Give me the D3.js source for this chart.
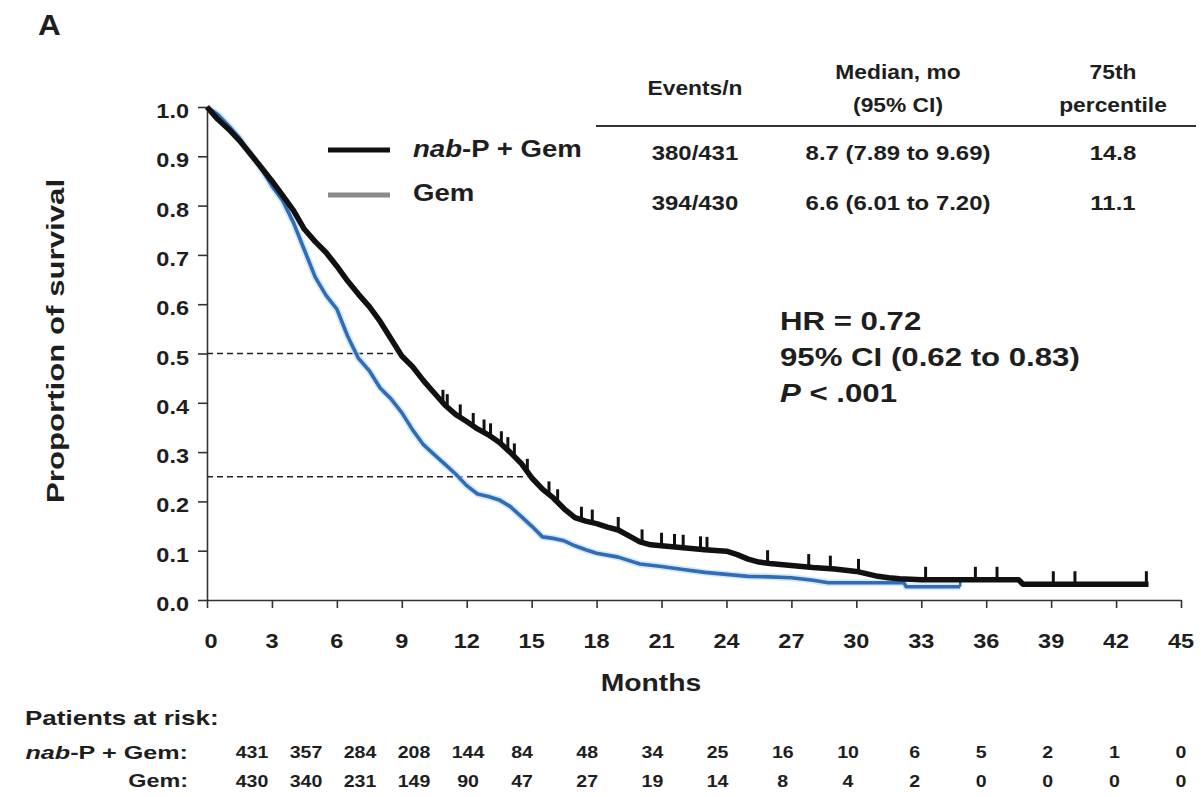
<!DOCTYPE html>
<html>
<head>
<meta charset="utf-8">
<script src="https://cdn.jsdelivr.net/npm/d3@7"></script>
<style>
  html, body { margin: 0; padding: 0; background: #fff; }
  svg { display: block; font-family: "Liberation Sans", Arial, sans-serif; }
</style>
</head>
<body>
<svg id="chart" width="1201" height="797"></svg>
<script>
// Overall survival, Kaplan-Meier estimates (months vs. proportion surviving)
const monthTicks = [0, 3, 6, 9, 12, 15, 18, 21, 24, 27, 30, 33, 36, 39, 42, 45];
const survTicks = [0, 0.1, 0.2, 0.3, 0.4, 0.5, 0.6, 0.7, 0.8, 0.9, 1.0];

// nab-P + Gem arm
const nabTime = [0, 0.5, 1.0, 1.5, 2.0, 2.5, 3.0, 3.5, 4.0, 4.5, 5.0, 5.5, 6.0, 6.5, 7.0, 7.5, 8.0, 8.5, 9.0, 9.5,
  10.0, 10.5, 11.0, 11.5, 12.0, 12.5, 13.0, 13.5, 14.0, 14.5, 15.0, 15.5, 16.0, 16.5, 17.0, 17.5, 18.0, 18.5, 19.0, 19.5,
  20.0, 20.5, 21.0, 22.0, 23.0, 24.0, 24.5, 25.0, 25.5, 26.0, 27.0, 28.0, 29.0, 30.0, 30.5, 31.0, 31.5, 32.0, 33.0, 37.5, 37.7, 43.5];
const nabSurv = [1.0, 0.975, 0.955, 0.932, 0.905, 0.878, 0.85, 0.82, 0.79, 0.752, 0.727, 0.705, 0.677, 0.647, 0.62, 0.595, 0.565, 0.53, 0.495, 0.473,
  0.445, 0.42, 0.395, 0.376, 0.362, 0.347, 0.335, 0.32, 0.30, 0.278, 0.248, 0.225, 0.207, 0.185, 0.167, 0.16, 0.155, 0.148, 0.142, 0.13,
  0.118, 0.112, 0.11, 0.106, 0.102, 0.099, 0.092, 0.083, 0.077, 0.074, 0.07, 0.066, 0.063, 0.058, 0.053, 0.048, 0.045, 0.043, 0.041, 0.041, 0.032, 0.032];
const nabCensored = [10.9, 11.1, 11.7, 12.3, 12.8, 13.1, 13.6, 13.9, 14.2, 14.8, 15.8, 16.2, 17.3, 17.8, 19.0, 20.1, 21.0, 21.6, 22.0,
  22.8, 23.1, 25.9, 27.8, 28.8, 30.1, 33.2, 35.5, 36.5, 39.1, 40.1, 43.4];

// Gem arm
const gemTime = [0, 0.5, 1.0, 1.5, 2.0, 2.5, 3.0, 3.5, 4.0, 4.5, 5.0, 5.5, 6.0, 6.5, 7.0, 7.5, 8.0, 8.5, 9.0, 9.5,
  10.0, 10.5, 11.0, 11.5, 12.0, 12.5, 13.0, 13.5, 14.0, 14.5, 15.0, 15.5, 16.0, 16.5, 17.0, 17.5, 18.0, 19.0, 20.0, 21.0,
  22.0, 23.0, 24.0, 25.0, 26.0, 27.0, 28.0, 28.7, 31.0, 32.2, 32.3, 34.8];
const gemSurv = [1.0, 0.985, 0.962, 0.937, 0.905, 0.875, 0.84, 0.81, 0.765, 0.71, 0.655, 0.618, 0.59, 0.535, 0.49, 0.465, 0.43, 0.408, 0.38, 0.345,
  0.315, 0.295, 0.275, 0.255, 0.232, 0.215, 0.21, 0.203, 0.19, 0.17, 0.15, 0.128, 0.125, 0.12, 0.11, 0.102, 0.095, 0.087, 0.073, 0.068,
  0.062, 0.056, 0.052, 0.048, 0.047, 0.045, 0.04, 0.035, 0.035, 0.035, 0.027, 0.027];
const gemCensored = [34.8];

// Median and 75th-percentile reference lines (nab-P + Gem)
const refLevels = [0.5, 0.25];
const refTimes = [8.7, 14.8];

// Summary table
const tableHeader = [["Events/n"], ["Median, mo", "(95% CI)"], ["75th", "percentile"]];
const tableNab = ["380/431", "8.7 (7.89 to 9.69)", "14.8"];
const tableGem = ["394/430", "6.6 (6.01 to 7.20)", "11.1"];

const statLines = ["HR = 0.72", "95% CI (0.62 to 0.83)"];

// Patients at risk
const atRiskNab = [431, 357, 284, 208, 144, 84, 48, 34, 25, 16, 10, 6, 5, 2, 1, 0];
const atRiskGem = [430, 340, 231, 149, 90, 47, 27, 19, 14, 8, 4, 2, 0, 0, 0, 0];

const INK = "#1e1e1e";
const NAB_COLOR = "#111111";
const GEM_COLOR = "#2f6db6";

const svg = d3.select("#chart");
const x = d3.scaleLinear().domain([0, 45]).range([207, 1181]);
const y = d3.scaleLinear().domain([0, 1]).range([600, 107]);
// columns of the at-risk table sit under the month ticks, squeezed at the left by the row labels
const xRisk = d3.scaleLinear().domain([0, 15, 30, 45]).range([252, 522, 848, 1181]);

// text helper: places a label and widens it horizontally
function label(g, px, py, str, o = {}) {
  const t = g.append("text")
    .attr("transform", `translate(${px},${py}) scale(${o.sx || 1.15},1)`)
    .attr("font-size", o.size || 20)
    .attr("font-weight", o.weight || "bold")
    .attr("text-anchor", o.anchor || "start")
    .attr("dominant-baseline", "central")
    .attr("fill", o.fill || INK);
  if (str !== null) t.text(str);
  return t;
}

// Panel letter
label(svg, 38, 25, "A", { size: 30, sx: 1.05 });

// Axes
const xAxis = d3.axisBottom(x).tickValues(monthTicks).tickSize(8).tickSizeOuter(0).tickFormat(d3.format("d"));
const yAxis = d3.axisLeft(y).tickValues(survTicks).tickSize(9).tickSizeOuter(0).tickFormat(d3.format(".1f"));

const gx = svg.append("g").attr("transform", "translate(0,600)").call(xAxis);
const gy = svg.append("g").attr("transform", "translate(207,0)").call(yAxis);
[gx, gy].forEach(g => {
  g.select(".domain").attr("stroke", "#333").attr("stroke-width", 1.6);
  g.selectAll(".tick line").attr("stroke", "#333").attr("stroke-width", 1.6);
  g.selectAll(".tick text").remove();
});
monthTicks.forEach(m => label(svg, x(m) + (m === 0 ? 4 : 0), 641, String(m), { size: 21, anchor: "middle", sx: 1.12 }));
survTicks.forEach(s => label(svg, 189, y(s) + 4, d3.format(".1f")(s), { size: 21, anchor: "end", sx: 1.12 }));

// Axis titles
svg.append("text")
  .attr("transform", "translate(56,341) rotate(-90) scale(1.3,1)")
  .attr("text-anchor", "middle").attr("dominant-baseline", "central")
  .attr("font-size", 24).attr("font-weight", "bold").attr("fill", INK)
  .text("Proportion of survival");
label(svg, 651, 683, "Months", { size: 24, anchor: "middle", sx: 1.18 });

// Reference dashed lines
const refG = svg.append("g");
refLevels.forEach((lv, i) => {
  refG.append("line")
    .attr("x1", x(0)).attr("x2", x(refTimes[i]))
    .attr("y1", y(lv)).attr("y2", y(lv))
    .attr("stroke", "#222").attr("stroke-width", 1.3)
    .attr("stroke-dasharray", "6,4");
});

// Kaplan-Meier curves (many small steps, drawn through the estimates)
const toPts = (ts, ss) => ts.map((t, i) => ({ t, s: ss[i] }));
const nabPts = toPts(nabTime, nabSurv);
const gemPts = toPts(gemTime, gemSurv);
const km = d3.line().x(d => x(d.t)).y(d => y(d.s)).curve(d3.curveLinear);
const survAt = (pts, t) => {
  const i = d3.bisector(d => d.t).right(pts, t);
  if (i <= 0) return pts[0].s;
  if (i >= pts.length) return pts[pts.length - 1].s;
  const a = pts[i - 1], b = pts[i];
  return a.s + (b.s - a.s) * (t - a.t) / (b.t - a.t);
};

const curves = svg.append("g");
// Gem: blue with a pale halo
curves.append("path").datum(gemPts).attr("d", km)
  .attr("fill", "none").attr("stroke", "#c9def2").attr("stroke-width", 7).attr("opacity", 0.7);
curves.append("path").datum(gemPts).attr("d", km)
  .attr("fill", "none").attr("stroke", GEM_COLOR).attr("stroke-width", 3.6)
  .attr("stroke-linejoin", "round");
curves.selectAll(".gemc").data(gemCensored).join("line")
  .attr("x1", d => x(d)).attr("x2", d => x(d))
  .attr("y1", d => y(survAt(gemPts, d))).attr("y2", d => y(survAt(gemPts, d)) - 8)
  .attr("stroke", GEM_COLOR).attr("stroke-width", 2.5);

// nab-P + Gem: thick black with censoring ticks
curves.append("path").datum(nabPts).attr("d", km)
  .attr("fill", "none").attr("stroke", NAB_COLOR).attr("stroke-width", 5.5)
  .attr("stroke-linejoin", "round");
curves.selectAll(".nabc").data(nabCensored).join("line")
  .attr("x1", d => x(d)).attr("x2", d => x(d))
  .attr("y1", d => y(survAt(nabPts, d))).attr("y2", d => y(survAt(nabPts, d)) - 13)
  .attr("stroke", NAB_COLOR).attr("stroke-width", 3);

// Legend
const leg = svg.append("g");
leg.append("line").attr("x1", 328).attr("x2", 390).attr("y1", 150).attr("y2", 150)
  .attr("stroke", NAB_COLOR).attr("stroke-width", 5);
leg.append("line").attr("x1", 328).attr("x2", 390).attr("y1", 195).attr("y2", 195)
  .attr("stroke", "#8a8a8a").attr("stroke-width", 5);
const l1 = label(leg, 413, 149, null, { size: 23, sx: 1.2 });
l1.append("tspan").attr("font-style", "italic").text("nab");
l1.append("tspan").text("-P + Gem");
label(leg, 413, 193, "Gem", { size: 23, sx: 1.2 });

// Summary table
const colX = [695, 898, 1113];
const tbl = svg.append("g");
tableHeader.forEach((lines, i) => {
  if (lines.length === 1) {
    label(tbl, colX[i], 88, lines[0], { size: 20, anchor: "middle", sx: 1.14 });
  } else {
    label(tbl, colX[i], 72, lines[0], { size: 20, anchor: "middle", sx: 1.14 });
    label(tbl, colX[i], 105, lines[1], { size: 20, anchor: "middle", sx: 1.14 });
  }
});
tbl.append("line").attr("x1", 596).attr("x2", 1196).attr("y1", 126).attr("y2", 126)
  .attr("stroke", "#333").attr("stroke-width", 1.8);
[tableNab, tableGem].forEach((row, r) => {
  row.forEach((v, i) => label(tbl, colX[i], 153 + r * 50, v, { size: 21, anchor: "middle", sx: 1.14 }));
});

// Hazard ratio block
const hr = svg.append("g");
statLines.forEach((s, i) => label(hr, 780, 321 + i * 36, s, { size: 26, sx: 1.2 }));
const pl = label(hr, 780, 393, null, { size: 26, sx: 1.2 });
pl.append("tspan").attr("font-style", "italic").text("P");
pl.append("tspan").text(" < .001");

// Patients at risk
const risk = svg.append("g");
label(risk, 25, 718, "Patients at risk:", { size: 20, sx: 1.3 });
const r1 = label(risk, 188, 752, null, { size: 18, anchor: "end", sx: 1.4 });
r1.append("tspan").attr("font-style", "italic").text("nab");
r1.append("tspan").text("-P + Gem:");
label(risk, 188, 781, "Gem:", { size: 18, anchor: "end", sx: 1.3 });
atRiskNab.forEach((n, i) => label(risk, xRisk(monthTicks[i]), 752, String(n), { size: 17, anchor: "middle", sx: 1.15 }));
atRiskGem.forEach((n, i) => label(risk, xRisk(monthTicks[i]), 781, String(n), { size: 17, anchor: "middle", sx: 1.15 }));
</script>
</body>
</html>
